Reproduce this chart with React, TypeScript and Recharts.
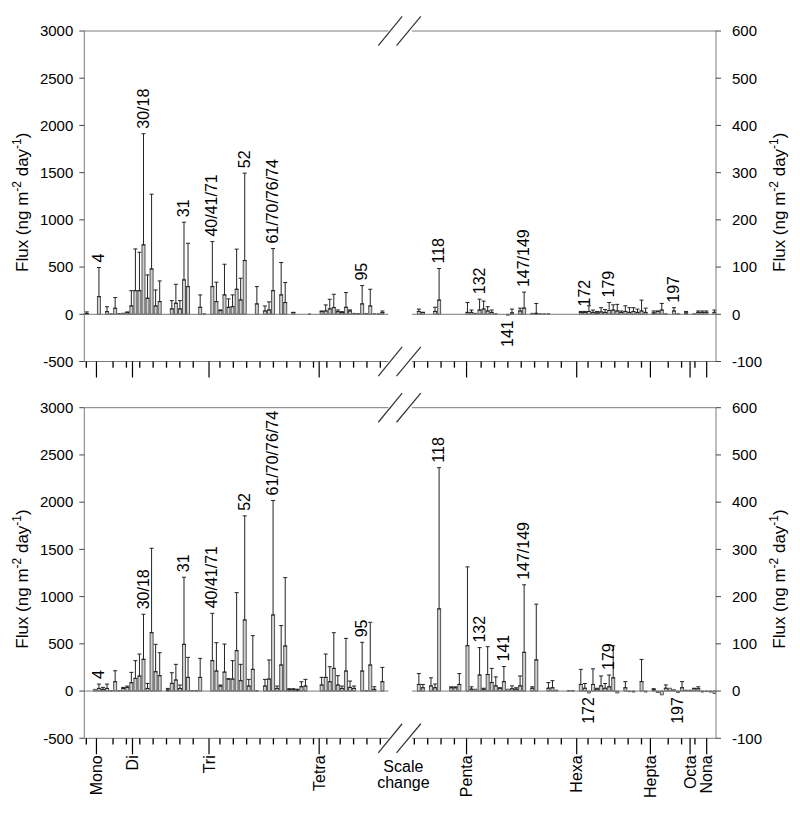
import React from 'react';
import { ComposedChart, Bar, ErrorBar, Scatter, XAxis, YAxis, ReferenceLine, Label } from 'recharts';

// [slot, flux, top of error bar]  (slot = position along the elution order)
type Row = [number, number, number | null];

const topLeft: Row[] = [
  [0, 8, 25], [3, 187, 495], [5, 28, 80], [6, 5, null], [7, 64, 177], [8, 8, null], [9, 12, null],
  [10, 18, 25], [11, 88, 250], [12, 250, 692], [13, 250, 657], [14, 735, 1912], [15, 170, 417],
  [16, 480, 1272], [17, 88, 258], [18, 134, 353], [21, 57, 145], [22, 117, 318], [23, 57, 145],
  [24, 364, 975], [25, 293, 752], [28, 74, 205], [29, 5, null], [31, 293, 770], [32, 134, 340],
  [33, 39, 46], [34, 205, 530], [35, 74, 163], [36, 81, 205], [37, 265, 690], [38, 152, 382],
  [39, 569, 1495], [42, 110, 293], [44, 35, 88], [45, 46, 131], [46, 250, 696], [48, 205, 548],
  [49, 124, 336], [51, 18, 21], [55, 3, null], [58, 28, 35], [59, 35, 99], [60, 57, 159],
  [61, 71, 212], [62, 28, 46], [63, 18, 28], [64, 74, 230], [65, 35, 46], [66, 10, null],
  [67, 8, null], [68, 110, 304], [69, 8, null], [70, 88, 265], [71, 5, null], [72, 5, null], [73, 18, 35],
];

const topRight: Row[] = [
  [82, 6, 11], [83, 4, 4], [86, 6, 15], [87, 30, 97], [94, 4, 25], [95, 4, 9], [96, 2, null],
  [97, 9, 32], [98, 11, 28], [99, 7, 16], [100, 4, 9], [101, 1, null], [104, -2, null], [105, 3, 11],
  [107, 7, 13], [108, 13, 47], [110, 2, null], [111, 2, 23], [112, 1, null], [113, 1, null],
  [114, 1, null], [122, 4, 6], [123, 4, 6], [124, 6, 18], [125, 4, 9], [126, 3, 6], [127, 5, 14],
  [128, 4, 10], [129, 8, 25], [130, 9, 20], [131, 7, 21], [132, 4, 7], [133, 6, 18], [134, 4, 14],
  [135, 6, 14], [136, 4, 11], [137, 7, 30], [138, 4, 13], [140, 3, 7], [141, 6, 7], [142, 9, 23],
  [143, 1, null], [145, 7, 14], [146, 1, null], [148, 3, 6], [150, 1, null], [151, 4, 7],
  [152, 4, 7], [153, 4, 7], [155, 4, 9],
];

const bottomLeft: Row[] = [
  [2, 18, null], [3, 28, 74], [4, 18, 39], [5, 28, 74], [6, 5, null], [7, 99, 215], [8, 5, null],
  [9, 28, 39], [10, 39, 53], [11, 88, 198], [12, 134, 322], [13, 159, 392], [14, 336, 813],
  [15, 28, 81], [16, 618, 1512], [17, 205, 495], [18, 163, 406], [20, 11, 28], [21, 81, 194],
  [22, 117, 283], [23, 28, 64], [24, 495, 1205], [25, 145, 357], [26, 5, null], [27, 5, null],
  [28, 145, 346], [31, 322, 823], [32, 212, 512], [33, 53, 64], [34, 201, 498], [35, 127, 130],
  [36, 127, 322], [37, 428, 1042], [38, 110, 283], [39, 753, 1855], [40, 53, 124], [41, 230, 587],
  [42, 3, null], [44, 53, 124], [45, 127, 329], [46, 806, 2018], [47, 28, 53], [48, 276, 693],
  [49, 477, 1201], [50, 15, 25], [51, 15, 25], [52, 10, 20], [53, 46, 99], [54, 53, 124],
  [58, 64, 145], [59, 145, 392], [60, 99, 258], [61, 240, 618], [62, 64, 163], [63, 28, 53],
  [64, 212, 558], [65, 39, 106], [66, 28, 53], [68, 212, 516], [69, 5, null], [70, 276, 728],
  [71, 18, 46], [73, 99, 251],
];

const bottomRight: Row[] = [
  [82, 14, 37], [83, 7, 14], [85, 11, 28], [86, 7, 15], [87, 174, 473], [90, 7, 9], [91, 7, 9],
  [92, 14, 37], [94, 96, 263], [95, 4, 9], [96, 4, null], [97, 34, 92], [98, 4, 6], [99, 35, 94],
  [100, 18, 48], [101, 11, 30], [102, 6, 7], [103, 20, 52], [104, 4, null], [105, 5, 11],
  [106, 4, 7], [107, 11, 32], [108, 82, 225], [110, 6, 9], [111, 66, 184], [114, 6, 18],
  [115, 7, 22], [116, 2, null], [119, 1, null], [120, 1, null], [122, 14, 46], [123, 6, 16],
  [124, -4, null], [125, 14, 47], [126, 4, 6], [127, 11, 32], [128, 6, 16], [129, 9, 34],
  [130, 28, 96], [131, -4, null], [133, 7, 20], [134, -1, null], [135, -2, null], [137, 20, 67],
  [138, -2, null], [140, 3, 5], [141, -3, null], [142, -8, null], [143, 6, 13], [144, 6, null],
  [145, 3, null], [146, -3, null], [147, 7, 20], [148, 2, null], [149, 2, null], [150, 5, 6],
  [151, 5, 9], [152, -2, null], [153, -1, null], [154, -2, null], [155, -5, null],
];

const topLabels: [number, string][] = [
  [3, '4'], [14, '30/18'], [24, '31'], [31, '40/41/71'], [39, '52'], [46, '61/70/76/74'], [68, '95'],
  [87, '118'], [97, '132'], [104, '141'], [108, '147/149'], [123, '172'], [129, '179'], [145, '197'],
];
const bottomLabels: [number, string][] = [
  [3, '4'], [14, '30/18'], [24, '31'], [31, '40/41/71'], [39, '52'], [46, '61/70/76/74'], [68, '95'],
  [87, '118'], [97, '132'], [103, '141'], [108, '147/149'], [124, '172'], [129, '179'], [146, '197'],
];

const groupNames = ['Mono', 'Di', 'Tri', 'Tetra', 'Penta', 'Hexa', 'Hepta', 'Octa', 'Nona'];
const groupPos = [3.0, 11.9, 30.8, 58.0, 94.4, 121.6, 139.8, 149.6, 153.7];

const leftTicks = [-500, 0, 500, 1000, 1500, 2000, 2500, 3000];
const rightTicks = [-100, 0, 100, 200, 300, 400, 500, 600];

const SLOTS = 156;
const LEFT_END = 75.1;
const RIGHT_START = 80.9;
const BREAK_X = 78.8;

const AXIS = '#7a7a7a';
const FONT = '"Liberation Sans", Arial, Helvetica, sans-serif';

// small unlabelled ticks along both halves of the x axis
const minorTicks: number[] = [];
for (let k = 0; k < 23; k++) minorTicks.push(Math.round((0.5 + k * 3.3) * 100) / 100);
for (let k = 0; k < 23; k++) minorTicks.push(Math.round((81.5 + k * 3.3) * 100) / 100);

function buildRows(left: Row[], right: Row[]) {
  const rows: any[] = [];
  for (let i = 0; i < SLOTS; i++) rows.push({ x: i + 0.5, vL: null, eL: null, vR: null, eR: null });
  left.forEach(([s, v, e]) => {
    rows[s].vL = v;
    rows[s].eL = e == null ? null : [0, e - v];
  });
  right.forEach(([s, v, e]) => {
    rows[s].vR = v;
    rows[s].eR = e == null ? null : [0, e - v];
  });
  return rows;
}

function buildLabels(labels: [number, string][], rows: Row[]) {
  const out: any[] = [];
  labels.forEach(([slot, text]) => {
    const r = rows.find((d) => d[0] === slot);
    if (!r) return;
    const below = r[1] <= 0;
    out.push({ x: slot + 0.5, y: below ? 0 : (r[2] ?? r[1]), text, below });
  });
  return out;
}

const LabelShape = (props: any) => {
  const { cx, cy, payload } = props;
  if (cx == null || cy == null) return <g />;
  return (
    <text
      x={cx}
      y={cy}
      transform={`rotate(-90 ${cx} ${cy})`}
      dx={payload.below ? -6 : 5}
      dy="0.35em"
      textAnchor={payload.below ? 'end' : 'start'}
      fontSize={16}
      fill="#000"
    >
      {payload.text}
    </text>
  );
};

const fluxTitle = (side: 'left' | 'right') => (props: any) => {
  const vb = props.viewBox || {};
  const cx = side === 'left' ? vb.x - 2 : vb.x + vb.width + 3;
  const cy = vb.y + vb.height / 2 + 6;
  return (
    <text
      x={cx}
      y={cy}
      transform={`rotate(-90 ${cx} ${cy})`}
      textAnchor="middle"
      dy="0.35em"
      fontSize={17}
      fill="#000"
    >
      Flux (ng m<tspan dy={-7} fontSize={12}>-2</tspan>
      <tspan dy={7}> day</tspan>
      <tspan dy={-7} fontSize={12}>-1</tspan>
      <tspan dy={7}>)</tspan>
    </text>
  );
};

const makeTick = (withNames: boolean) => (props: any) => {
  const { x, y, payload } = props;
  const v = Number(payload.value);
  if (withNames && Math.abs(v - BREAK_X) < 0.01) {
    return (
      <g>
        <text x={x} y={y + 34} textAnchor="middle" fontSize={16} fill="#000">Scale</text>
        <text x={x} y={y + 50} textAnchor="middle" fontSize={16} fill="#000">change</text>
      </g>
    );
  }
  const gi = groupPos.findIndex((g) => Math.abs(g - v) < 0.001);
  if (gi < 0) return <g />;
  return (
    <g>
      <path d={`M${x},${y}L${x},${y + 16}`} stroke="#000" strokeWidth={1.2} fill="none" />
      {withNames && (
        <text
          x={x}
          y={y + 17}
          transform={`rotate(-90 ${x} ${y + 17})`}
          textAnchor="end"
          dy="0.35em"
          fontSize={16}
          fill="#000"
        >
          {groupNames[gi]}
        </text>
      )}
    </g>
  );
};

const hSeg = (y: number, key: string, color = AXIS) => [
  <ReferenceLine key={key + 'a'} yAxisId="L" stroke={color} ifOverflow="visible"
    segment={[{ x: 0, y }, { x: LEFT_END, y }]} />,
  <ReferenceLine key={key + 'b'} yAxisId="L" stroke={color} ifOverflow="visible"
    segment={[{ x: RIGHT_START, y }, { x: SLOTS, y }]} />,
];

const slashes = (y: number, key: string) => [
  <ReferenceLine key={key + 's1'} yAxisId="L" stroke="#333" strokeWidth={1.2} ifOverflow="visible"
    segment={[{ x: 72.6, y: y - 154 }, { x: 78.5, y: y + 154 }]} />,
  <ReferenceLine key={key + 's2'} yAxisId="L" stroke="#333" strokeWidth={1.2} ifOverflow="visible"
    segment={[{ x: 77.1, y: y - 154 }, { x: 83.1, y: y + 154 }]} />,
];

// minor x ticks drawn as short segments hanging below the -500 axis line
const minorMarks = () =>
  minorTicks
    .filter((t) => t < SLOTS && (t < LEFT_END || t > RIGHT_START) && groupPos.every((g) => Math.abs(g - t) > 1.2))
    .map((t) => (
      <ReferenceLine key={'m' + t} yAxisId="L" stroke="#000" strokeWidth={1.3} ifOverflow="visible"
        segment={[{ x: t, y: -500 }, { x: t, y: -565 }]} />
    ));

interface PanelProps {
  left: Row[];
  right: Row[];
  labels: [number, string][];
  withNames: boolean;
  height: number;
  marginTop: number;
  marginBottom: number;
  xHeight: number;
}

const Panel: React.FC<PanelProps> = ({ left, right, labels, withNames, height, marginTop, marginBottom, xHeight }) => {
  const rows = buildRows(left, right);
  const labL = buildLabels(labels.filter((l) => l[0] < LEFT_END), left);
  const labR = buildLabels(labels.filter((l) => l[0] > RIGHT_START), right);
  const ticks = [...groupPos, ...(withNames ? [BREAK_X] : [])].sort((a, b) => a - b);

  return (
    <ComposedChart
      width={800}
      height={height}
      data={rows}
      margin={{ top: marginTop, right: 24, bottom: marginBottom, left: 24.3 }}
      barGap={-3}
    >
      <XAxis
        dataKey="x"
        type="number"
        domain={[0, SLOTS]}
        allowDataOverflow
        ticks={ticks}
        interval={0}
        axisLine={false}
        tickLine={false}
        tickSize={0}
        tickMargin={0}
        height={xHeight}
        tick={makeTick(withNames)}
      />
      <YAxis
        yAxisId="L"
        domain={[-500, 3000]}
        ticks={leftTicks}
        allowDataOverflow
        width={60}
        axisLine={{ stroke: AXIS }}
        tickLine={{ stroke: '#444' }}
        tickSize={5}
        tickMargin={6}
        tick={{ fill: '#000', fontSize: 15 }}
      >
        <Label content={fluxTitle('left')} />
      </YAxis>
      <YAxis
        yAxisId="R"
        orientation="right"
        domain={[-100, 600]}
        ticks={rightTicks}
        allowDataOverflow
        width={60}
        axisLine={{ stroke: AXIS }}
        tickLine={{ stroke: '#444' }}
        tickSize={5}
        tickMargin={11}
        tick={{ fill: '#000', fontSize: 15, textAnchor: 'start' }}
      >
        <Label content={fluxTitle('right')} />
      </YAxis>
      {hSeg(3000, 'top')}
      {hSeg(-500, 'bot')}
      {hSeg(0, 'zero')}
      {minorMarks()}
      {slashes(3000, 'top')}
      {slashes(-500, 'bot')}
      <Bar yAxisId="L" dataKey="vL" barSize={3} fill="#cfcfcf" stroke="#444" strokeWidth={0.9} isAnimationActive={false}>
        <ErrorBar dataKey="eL" width={2} stroke="#222" strokeWidth={1} direction="y" isAnimationActive={false} />
      </Bar>
      <Bar yAxisId="R" dataKey="vR" barSize={3} fill="#cfcfcf" stroke="#444" strokeWidth={0.9} isAnimationActive={false}>
        <ErrorBar dataKey="eR" width={2} stroke="#222" strokeWidth={1} direction="y" isAnimationActive={false} />
      </Bar>
      <Scatter yAxisId="L" data={labL} dataKey="y" shape={LabelShape} isAnimationActive={false} />
      <Scatter yAxisId="R" data={labR} dataKey="y" shape={LabelShape} isAnimationActive={false} />
    </ComposedChart>
  );
};

export default function App() {
  return (
    <div style={{ position: 'absolute', left: 0, top: 0, width: 800, height: 814, fontFamily: FONT, background: '#fff' }}>
      <div style={{ position: 'absolute', left: 0, top: 0 }}>
        <Panel left={topLeft} right={topRight} labels={topLabels} withNames={false}
          height={400} marginTop={31} marginBottom={8.5} xHeight={30} />
      </div>
      <div style={{ position: 'absolute', left: 0, top: 380 }}>
        <Panel left={bottomLeft} right={bottomRight} labels={bottomLabels} withNames={true}
          height={434} marginTop={27.7} marginBottom={5.7} xHeight={70} />
      </div>
    </div>
  );
}
